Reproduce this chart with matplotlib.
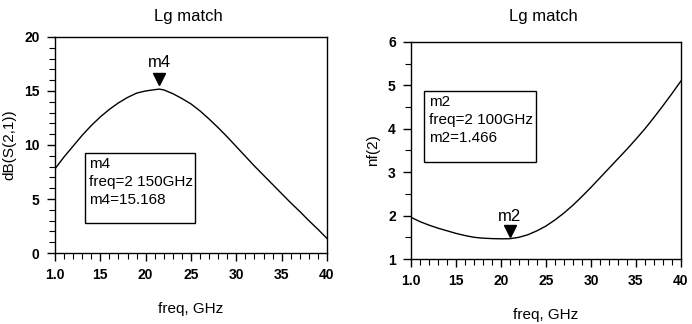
import matplotlib
matplotlib.use('Agg')
import matplotlib.pyplot as plt
from matplotlib.patches import Rectangle
from matplotlib.ticker import MultipleLocator

plt.rcParams['font.family'] = ['Liberation Sans', 'DejaVu Sans']

# left panel: dB(S(2,1)) vs freq
freq_s21 = [10, 11, 12, 13, 14, 15, 16, 17, 18, 19, 20, 21, 21.5, 22, 23, 24, 25, 26, 27, 28, 29,
            30, 31, 32, 33, 34, 35, 36, 37, 38, 39, 40]
s21_db = [7.8, 8.9, 9.9, 10.9, 11.8, 12.6, 13.3, 13.9, 14.4, 14.8, 15.0, 15.12, 15.17, 15.1, 14.75,
          14.3, 13.8, 13.15, 12.4, 11.6, 10.75, 9.85, 8.95, 8.05, 7.2, 6.35, 5.5, 4.65, 3.85, 3.0,
          2.2, 1.35]

# right panel: nf(2) vs freq
freq_nf = [10, 11, 12, 13, 14, 15, 16, 17, 18, 19, 20, 21, 22, 23, 24, 25, 26, 27, 28, 29, 30,
           31, 32, 33, 34, 35, 36, 37, 38, 39, 40]
nf2 = [1.96, 1.86, 1.78, 1.71, 1.65, 1.59, 1.54, 1.5, 1.48, 1.47, 1.465, 1.468, 1.5, 1.56, 1.65,
       1.76, 1.9, 2.06, 2.24, 2.44, 2.65, 2.87, 3.09, 3.31, 3.53, 3.76, 4.0, 4.26, 4.53, 4.81, 5.1]

xtick_vals = [10, 15, 20, 25, 30, 35, 40]
xtick_labels = ['1.0', '15', '20', '25', '30', '35', '40']

m4_freq, m4_val = 21.5, 15.168
m2_freq, m2_val = 21.0, 1.466

fig = plt.figure(figsize=(6.92, 3.24), dpi=100)
ax1 = fig.add_axes([0.0795, 0.219, 0.393, 0.667])
ax2 = fig.add_axes([0.594, 0.2006, 0.390, 0.670])


def style(ax, ymaj, ymin):
    ax.set_xlim(10, 40)
    ax.set_xticks(xtick_vals)
    ax.set_xticklabels(xtick_labels, fontweight='bold', fontsize=10)
    ax.xaxis.set_minor_locator(MultipleLocator(1))
    ax.yaxis.set_major_locator(MultipleLocator(ymaj))
    ax.yaxis.set_minor_locator(MultipleLocator(ymin))
    ax.tick_params(which='major', direction='out', length=6, width=1, pad=5)
    ax.tick_params(which='minor', direction='out', length=4, width=0.8)
    for lab in ax.get_yticklabels():
        lab.set_fontweight('bold')
        lab.set_fontsize(10)
    for sp in ax.spines.values():
        sp.set_linewidth(1)


ax1.plot(freq_s21, s21_db, color='black', lw=1)
ax1.set_ylim(0, 20)
style(ax1, 5, 1)
ax1.set_xlabel('freq, GHz', fontsize=11, labelpad=14)
ax1.set_ylabel('dB(S(2,1))', fontsize=11, labelpad=6)
ax1.plot([m4_freq], [m4_val + 0.9], marker='v', color='black', markersize=9)
ax1.text(m4_freq, m4_val + 1.8, 'm4', ha='center', va='bottom', fontsize=12)
ax1.add_patch(Rectangle((0.110, 0.139), 0.405, 0.324, transform=ax1.transAxes,
                        fill=False, lw=1, color='black'))
ax1.text(0.125, 0.445, 'm4\nfreq=2 150GHz\nm4=15.168', transform=ax1.transAxes,
         va='top', ha='left', fontsize=11, linespacing=1.35)

ax2.plot(freq_nf, nf2, color='black', lw=1)
ax2.set_ylim(1, 6)
style(ax2, 1, 0.5)
ax2.set_xlabel('freq, GHz', fontsize=11, labelpad=14)
ax2.set_ylabel('nf(2)', fontsize=11, labelpad=6)
ax2.plot([m2_freq], [m2_val + 0.18], marker='v', color='black', markersize=9)
ax2.text(m2_freq, m2_val + 0.33, 'm2', ha='center', va='bottom', fontsize=12)
ax2.add_patch(Rectangle((0.048, 0.447), 0.415, 0.327, transform=ax2.transAxes,
                        fill=False, lw=1, color='black'))
ax2.text(0.065, 0.755, 'm2\nfreq=2 100GHz\nm2=1.466', transform=ax2.transAxes,
         va='top', ha='left', fontsize=11, linespacing=1.35)

fig.text(0.272, 0.95, 'Lg match', ha='center', va='center', fontsize=12)
fig.text(0.785, 0.948, 'Lg match', ha='center', va='center', fontsize=12)

fig.savefig('out.png', dpi=100)
